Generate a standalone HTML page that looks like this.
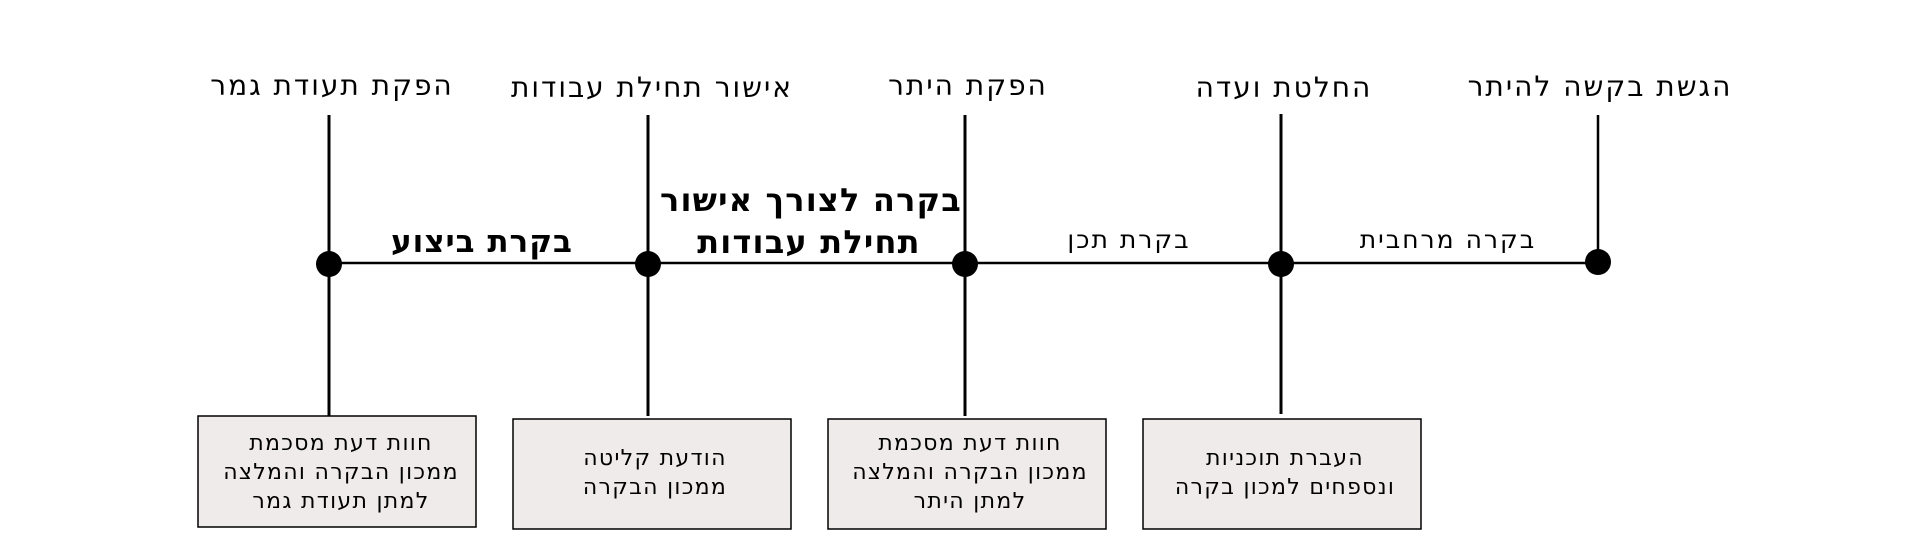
<!DOCTYPE html>
<html><head><meta charset="utf-8"><style>
html,body{margin:0;padding:0;background:#fff;width:1920px;height:550px;overflow:hidden}
svg text{font-family:"DejaVu Sans","Liberation Sans",sans-serif;direction:rtl;unicode-bidi:embed}
</style></head><body>
<svg width="1920" height="550" xmlns="http://www.w3.org/2000/svg">
<g stroke="#000" fill="none">
<line x1="329" y1="263" x2="1598" y2="263" stroke-width="2.5"/>
<line x1="329" y1="115" x2="329" y2="416" stroke-width="3"/>
<line x1="648" y1="115" x2="648" y2="416" stroke-width="3"/>
<line x1="965" y1="115" x2="965" y2="416" stroke-width="3"/>
<line x1="1281" y1="114" x2="1281" y2="414" stroke-width="3"/>
<line x1="1598" y1="115" x2="1598" y2="262" stroke-width="2.5"/>
</g>
<g fill="#000">
<circle cx="329" cy="264" r="13"/>
<circle cx="648" cy="264" r="13"/>
<circle cx="965" cy="264" r="13"/>
<circle cx="1281" cy="264" r="13"/>
<circle cx="1598" cy="262" r="13"/>
</g>
<g fill="#efebea" stroke="#000" stroke-width="1.5">
<rect x="198" y="416" width="278" height="111"/>
<rect x="513" y="419" width="278" height="110"/>
<rect x="828" y="419" width="278" height="110"/>
<rect x="1143" y="419" width="278" height="110"/>
</g>
<g font-size="28" letter-spacing="2" text-anchor="middle" fill="#000">
<text x="332" y="95">הפקת תעודת גמר</text>
<text x="652" y="97">אישור תחילת עבודות</text>
<text x="968" y="95">הפקת היתר</text>
<text x="1284" y="97">החלטת ועדה</text>
<text x="1600" y="96">הגשת בקשה להיתר</text>
</g>
<g font-size="25" letter-spacing="2" text-anchor="middle" fill="#000">
<text x="1448" y="248">בקרה מרחבית</text>
<text x="1129" y="248">בקרת תכן</text>
</g>
<g font-size="31" letter-spacing="1" font-weight="bold" text-anchor="middle" fill="#000">
<text x="482" y="252">בקרת ביצוע</text>
</g>
<g font-size="32" letter-spacing="1.2" font-weight="bold" text-anchor="middle" fill="#000">
<text x="811" y="211">בקרה לצורך אישור</text>
<text x="809" y="253">תחילת עבודות</text>
</g>
<g font-size="22" letter-spacing="1.3" text-anchor="middle" fill="#000">
<text x="341" y="450">חוות דעת מסכמת</text>
<text x="341" y="479">ממכון הבקרה והמלצה</text>
<text x="341" y="508">למתן תעודת גמר</text>
<text x="655" y="465">הודעת קליטה</text>
<text x="655" y="494">ממכון הבקרה</text>
<text x="970" y="450">חוות דעת מסכמת</text>
<text x="970" y="479">ממכון הבקרה והמלצה</text>
<text x="970" y="508">למתן היתר</text>
<text x="1285" y="465">העברת תוכניות</text>
<text x="1285" y="494">ונספחים למכון בקרה</text>
</g>
</svg>
</body></html>
